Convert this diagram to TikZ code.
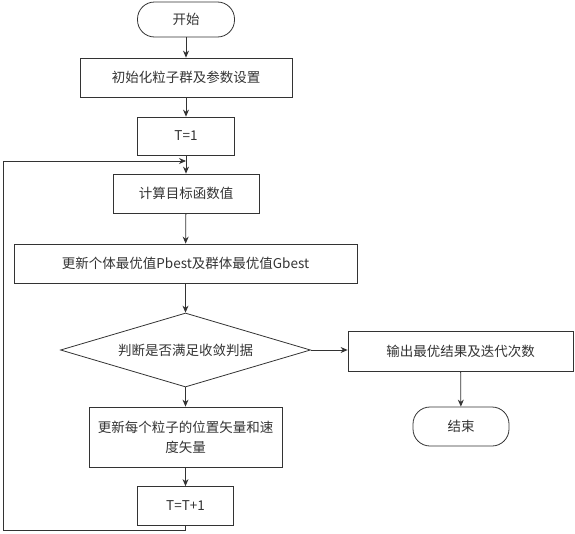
\documentclass[tikz,border=0pt]{standalone}
\usepackage{fontspec}
\setmainfont{Noto Sans CJK SC}
\usepackage{tikz}
\usetikzlibrary{shapes.geometric,arrows.meta}

\tikzset{
	box/.style={draw=black!80,line width=0.8pt,text=black!80,inner sep=1pt,font=\fontsize{13.5}{20}\selectfont},
	term/.style={box,rounded corners=17pt},
	cond/.style={box,diamond,aspect=3.4,inner sep=0pt},
	go/.style={draw=black!80,line width=0.8pt,-{Stealth[length=7pt,width=6pt]}}
}

\begin{document}
\begin{tikzpicture}[x=1pt,y=-1pt]
					\useasboundingbox (0,0) rectangle (575,533);
					
					\node[term,minimum width=97pt,minimum height=35pt] (start) at (186,19.5) {开始};
					\node[box,minimum width=212pt,minimum height=39pt] (init) at (186,77.5) {初始化粒子群及参数设置};
					\node[box,minimum width=97pt,minimum height=38pt] (tone) at (186,136) {T=1};
					\node[box,minimum width=146pt,minimum height=39pt] (calc) at (186,193.5) {计算目标函数值};
					\node[box,minimum width=343pt,minimum height=39pt] (updbest) at (185.5,263.5) {更新个体最优值Pbest及群体最优值Gbest};
					\node[cond,minimum width=250pt,minimum height=74pt] (judge) at (185.5,350) {判断是否满足收敛判据};
					\node[box,minimum width=193pt,minimum height=60pt,align=center] (updpos) at (185.5,437) {更新每个粒子的位置矢量和速\\度矢量};
					\node[box,minimum width=96pt,minimum height=39pt] (tinc) at (185.5,506) {T=T+1};
					\node[box,minimum width=225pt,minimum height=40pt] (output) at (460.5,351) {输出最优结果及迭代次数};
					\node[term,minimum width=96pt,minimum height=39pt] (finish) at (461,426.5) {结束};
					
					\coordinate (join) at (186,161);
					\coordinate (low) at (3.5,530);
					
					\draw[go](start)--(init);
					\draw[go](init)--(tone);
					\draw[go](tone)--(calc);
					\draw[go](calc)--(updbest);
					\draw[go](updbest)--(judge);
					\draw[go](judge)--(updpos);
					\draw[go](updpos)--(tinc);
					\draw[go](judge.east)--(output.west|-judge.east);
					\draw[go](output)--(finish);
					% back to the top of the loop
					\draw[go](tinc.south)--(tinc.south|-low)--(low)--(low|-join)--(join);
						\end{tikzpicture}
\end{document}
